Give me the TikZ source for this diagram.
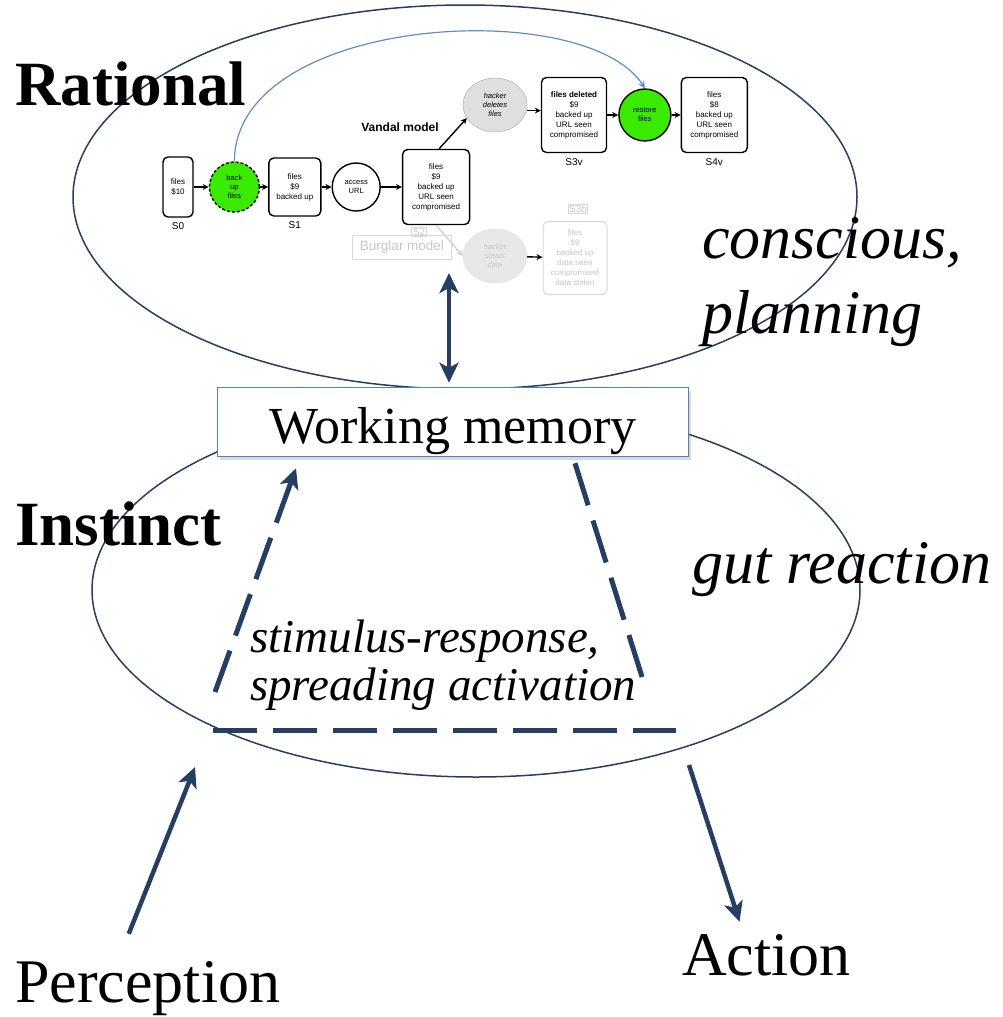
\documentclass[tikz,border=0pt]{standalone}
\usepackage{fontspec}
\setmainfont{Liberation Serif}
\setsansfont{Liberation Sans}
\usetikzlibrary{arrows.meta,positioning,shapes.geometric,shadows}
\definecolor{navy}{RGB}{38,62,98}
\definecolor{boxblue}{RGB}{79,129,189}
\definecolor{linkblue}{RGB}{98,141,196}
\definecolor{actgreen}{RGB}{58,235,0}
\tikzset{
  zone/.style={draw=navy, line width=1.5pt, ellipse, inner sep=0pt},
  bigarr/.style={-{Stealth[length=20pt,width=19pt,inset=5pt]}, line width=4.5pt, draw=navy},
  dblarr/.style={{Stealth[length=20pt,width=19pt,inset=5pt]}-{Stealth[length=20pt,width=19pt,inset=5pt]}, line width=4.5pt, draw=navy},
  dashline/.style={line width=5pt, draw=navy, dash pattern=on 44pt off 16pt},
  lbl/.style={inner sep=0pt, anchor=base west},
  stbox/.style={draw, rounded corners=5pt, line width=1.4pt, align=center, inner sep=1pt, fill=white,
    font=\sffamily\fontsize{8}{10}\selectfont},
  actnode/.style={draw, circle, line width=1.4pt, fill=actgreen, minimum size=50pt, inner sep=0pt, align=center,
    font=\sffamily\fontsize{7.5}{9}\selectfont},
  hacker/.style={draw=gray!70, fill=gray!25, ellipse, minimum width=64pt, minimum height=54pt, inner sep=0pt,
    align=center, font=\sffamily\itshape\fontsize{7.5}{9}\selectfont},
  stlbl/.style={font=\sffamily\fontsize{10}{12}\selectfont, inner sep=1pt},
  smarr/.style={-{Stealth[length=6pt,width=6pt]}, line width=1.4pt},
  faded/.style={draw=gray!30, text=gray!45},
}
\begin{document}
\begin{tikzpicture}[x=1pt, y=-1pt]
  \useasboundingbox (0,0) rectangle (1003,1017);

  % the two systems
  \node[zone, minimum width=784pt, minimum height=384pt] (rational) at (465,197) {};
  \node[zone, minimum width=768pt, minimum height=374pt] (instinct) at (476,590) {};

  % vandal / burglar model
  \node[stbox, minimum width=30pt, minimum height=60pt] (s0) at (178,187) {files\\\$10};
  \node[actnode, dash pattern=on 3pt off 2pt, right=15pt of s0] (backup) {back\\up\\files};
  \node[stbox, minimum width=52pt, minimum height=58pt, right=8pt of backup] (s1) {files\\\$9\\backed up};
  \node[actnode, fill=white, minimum size=48pt, right=10pt of s1] (access) {access\\URL};
  \node[stbox, minimum width=67pt, minimum height=75pt, right=21pt of access] (s2)
    {files\\\$9\\backed up\\URL seen\\compromised};
  \node[hacker] (deletes) at (495,105) {hacker\\deletes\\files};
  \node[stbox, minimum width=65pt, minimum height=75pt] (s3v) at (574,115)
    {\bfseries files deleted\\\$9\\backed up\\URL seen\\compromised};
  \node[actnode, minimum size=52pt, right=11pt of s3v] (restore) {restore\\files};
  \node[stbox, minimum width=66pt, minimum height=75pt, right=9pt of restore] (s4v)
    {files\\\$8\\backed up\\URL seen\\compromised};
  \node[stlbl, below=4pt of s0] (s0lbl) {S0};
  \node[stlbl, below=4pt of s1] (s1lbl) {S1};
  \node[stlbl, below=4pt of s3v] (s3vlbl) {S3v};
  \node[stlbl, below=4pt of s4v] (s4vlbl) {S4v};
  \node[font=\sffamily\bfseries\fontsize{12}{14}\selectfont] (vandal) at (400,127) {Vandal model};

  \node[stlbl, draw, faded, line width=1pt] (s2lbl) at (419,232) {S2};
  \node[draw, faded, line width=1pt, minimum width=99pt, minimum height=24pt, inner sep=1pt,
    font=\sffamily\fontsize{13.5}{15}\selectfont] (burglar) at (402,247) {Burglar model};
  \node[hacker, draw=gray!25, fill=gray!18, text=gray!45] (steals) at (495,256) {hacker\\steals\\data};
  \node[stbox, faded, line width=1pt, minimum width=64pt, minimum height=73pt] (s3b) at (575,258)
    {files\\\$9\\backed up\\data seen\\compromised\\data stolen};
  \node[stlbl, draw, faded, line width=1pt] (s3blbl) at (578,209) {S3b};

  \draw[smarr] (s0) -- (backup);
  \draw[smarr] (backup) -- (s1);
  \draw[smarr] (s1) -- (access);
  \draw[smarr] (access) -- (s2);
  \draw[smarr] ([xshift=3pt]s2.north) -- (deletes.205);
  \draw[smarr] (deletes.-10) -- (deletes.-10 -| s3v.west);
  \draw[smarr] (s3v) -- (restore);
  \draw[smarr] (restore) -- (s4v);
  \draw[smarr, gray!35] (s2.south) -- (steals.west);
  \draw[smarr] (steals) -- (s3b);
  \draw[-{Stealth[length=7pt,width=7pt]}, linkblue, line width=1.2pt]
    (backup.north) .. controls (235,15) and (585,-5) .. (restore.north);

  % working memory
  \node[draw=boxblue, line width=1.5pt, fill=white, drop shadow={opacity=0.3, shadow xshift=2pt, shadow yshift=-3pt},
    minimum width=471pt, minimum height=69pt, text height=42pt, text depth=0pt, inner sep=0pt,
    font=\fontsize{52}{60}\selectfont] (wm) at (453,422) {Working memory};

  % labels
  \node[lbl, font=\bfseries\fontsize{63}{72}\selectfont] (rationallbl) at (15,105) {Rational};
  \node[lbl, font=\bfseries\fontsize{63}{72}\selectfont] (instinctlbl) at (15,545) {Instinct};
  \node[lbl, font=\itshape\fontsize{62}{75}\selectfont, align=left] (conscious) at (702,333) {conscious,\\planning};
  \node[lbl, font=\itshape\fontsize{62}{74}\selectfont] (gut) at (692,583) {gut reaction};
  \node[lbl, font=\itshape\fontsize{47}{48}\selectfont, align=left] (stim) at (250,700)
    {stimulus-response,\\spreading activation};
  \node[lbl, font=\fontsize{62}{74}\selectfont] (perc) at (15,1002) {Perception};
  \node[lbl, font=\fontsize{62}{74}\selectfont] (act) at (682,975) {Action};

  % connectors
  \coordinate (ratin) at (449,273);
  \coordinate (percin) at (195,767);
  \coordinate (actout) at (689,765);
  \coordinate (trapl) at (215,692);
  \coordinate (trapr) at (643,680);
  \coordinate (trapbl) at (213,730);
  \coordinate (trapbr) at (676,730);
  \draw[dblarr] ([xshift=-4pt,yshift=4pt]wm.north) -- (ratin);
  \draw[bigarr] ([xshift=-19pt,yshift=27pt]perc.north) -- (percin);
  \draw[bigarr] (actout) -- ([xshift=-27pt,yshift=12pt]act.north);
  \draw[dashline, -{Stealth[length=20pt,width=19pt,inset=5pt]}] (trapl) -- ([xshift=-157pt,yshift=-11pt]wm.south);
  \draw[dashline] ([xshift=122pt,yshift=-6pt]wm.south) -- (trapr);
  \draw[dashline] (trapbl) -- (trapbr);
\end{tikzpicture}
\end{document}
